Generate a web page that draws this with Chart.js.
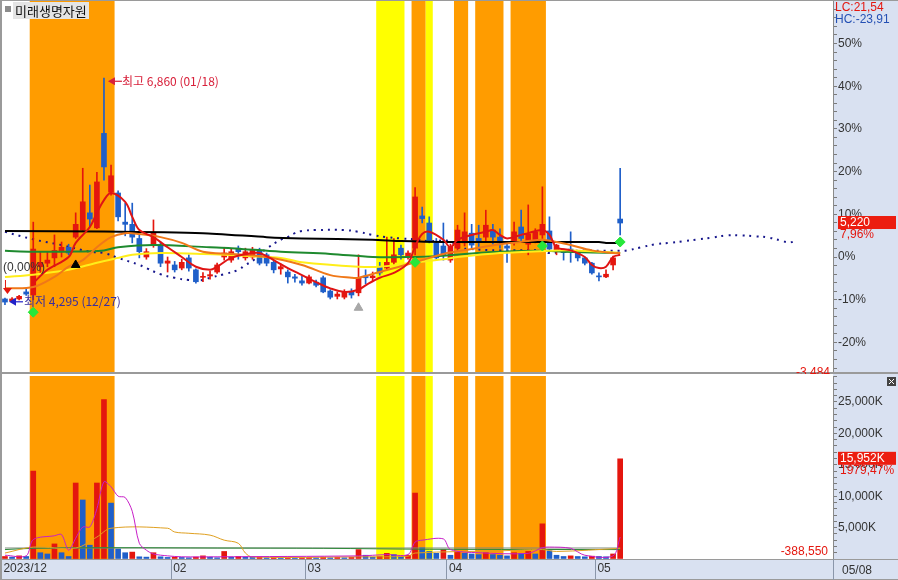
<!DOCTYPE html>
<html>
<head>
<meta charset="utf-8">
<title>미래생명자원</title>
<script src="https://cdn.jsdelivr.net/npm/chart.js@4.4.1/dist/chart.umd.min.js"></script>
<style>
  html, body { margin:0; padding:0; background:#fff; }
  #wrap { position:relative; width:898px; height:580px; overflow:hidden; }
  #priceBox { position:absolute; left:0; top:0; width:898px; height:374px; }
  #volBox { position:absolute; left:0; top:374px; width:898px; height:206px; }
</style>
</head>
<body>
<div id="wrap">
  <div id="priceBox"><canvas id="priceChart"></canvas></div>
  <div id="volBox"><canvas id="volChart"></canvas></div>
</div>
<script>
// 기준가 (0%)
const basePrice = 4835;

// 일봉 (12/27 ~ 05/08)
const openPx  = [4360,4335,4360,4440,4405,4725,4765,4825,4895,4945,5060,5140,5335,5165,6235,5570,5560,5230,5205,5045,
                 4835,4970,4970,4765,4745,4710,4825,4690,4605,4620,4665,4835,4800,4935,4825,4835,4910,4860,4775,4700,
                 4665,4610,4565,4540,4550,4600,4450,4390,4380,4440,4430,4620,4600,4725,4710,4775,4935,4835,4935,5300,
                 5220,4995,4960,4800,4935,4995,5105,5045,5060,5140,5060,4960,5005,5175,4980,5030,5085,5130,4895,4905,
                 4925,4895,4825,4765,4620,4610,4745,5265];
const highPx  = [4370,4375,4400,4475,5230,4895,4895,5085,5005,4980,5335,5840,5650,5795,6860,5875,5585,5445,5445,5105,
                 4930,5255,5005,4835,4785,4810,4860,4700,4660,4675,4765,4945,4925,4960,4935,4945,4935,4880,4800,4755,
                 4690,4640,4615,4630,4575,4620,4465,4440,4465,4475,4860,4690,4665,4775,5060,5045,4970,4905,5620,5400,
                 5290,5045,5220,4980,5195,5335,5205,5195,5365,5205,5155,4980,5230,5365,5425,5155,5630,5290,4980,4925,
                 5120,4910,4835,4775,4655,4690,4845,5840];
const lowPx   = [4295,4325,4350,4400,4350,4655,4725,4725,4835,4860,5045,5125,5175,5155,5705,5535,5245,5075,4995,4825,
                 4810,4945,4725,4665,4665,4690,4675,4540,4555,4585,4650,4800,4775,4810,4800,4810,4745,4735,4655,4640,
                 4540,4550,4515,4530,4495,4430,4360,4360,4360,4370,4395,4530,4565,4630,4690,4755,4810,4810,4860,5220,
                 4995,4800,4800,4775,4910,4960,4935,4925,5015,4980,4935,4775,4970,5015,4860,4995,5045,4895,4860,4800,
                 4775,4790,4745,4640,4565,4600,4690,5085];
const closePx = [4325,4360,4390,4415,4925,4775,4800,4910,4945,4880,5205,5460,5265,5685,5855,5755,5290,5205,5060,4895,
                 4895,5115,4765,4790,4690,4775,4710,4555,4615,4635,4745,4880,4895,4895,4895,4910,4765,4765,4690,4725,
                 4610,4595,4540,4610,4515,4440,4380,4415,4440,4405,4600,4600,4620,4655,4775,4860,4860,4880,5515,5270,
                 5005,4825,4860,4945,5140,5120,4970,5005,5195,5060,4995,4935,5120,5045,5095,5120,5205,4925,4970,4885,
                 4905,4825,4765,4655,4610,4640,4825,5220];

// 거래량 (천주)
const volumeK = [400,300,500,400,14000,1000,800,2400,1000,400,12100,9400,2200,12100,25400,8900,1600,1000,1100,350,
                 300,1000,350,250,300,250,200,300,500,300,200,1200,300,400,300,250,300,200,250,200,
                 300,200,200,250,200,300,200,250,200,250,1500,600,300,400,900,700,400,600,10500,1800,
                 1200,900,1500,600,1200,900,800,700,1000,700,600,500,1000,900,1200,800,5600,1300,600,400,
                 500,400,350,450,400,350,800,15952];

// 이동평균선 [봉 index, 값]
const ma5Line   = [[4,4540],[6,4690],[9,4835],[10,4995],[12,5175],[13,5335],[14,5480],[15,5560],[17,5460],[18,5290],
                   [19,5140],[21,5060],[23,4945],[25,4835],[27,4725],[29,4690],[30,4725],[32,4825],[35,4880],[36,4880],
                   [38,4800],[40,4710],[42,4630],[44,4550],[46,4480],[48,4440],[50,4465],[51,4515],[53,4600],[55,4655],
                   [57,4765],[58,4955],[59,5095],[60,5120],[62,5030],[63,4945],[64,5030],[66,5085],[68,5120],[69,5140],
                   [70,5085],[71,5045],[73,5085],[74,5105],[76,5140],[77,5085],[78,4945],[80,4910],[82,4835],[83,4745],
                   [84,4710],[85,4725],[86,4835],[87,4860]];
const ma10Line  = [[0,4480],[4,4495],[7,4610],[9,4725],[11,4800],[13,4945],[15,5060],[17,5105],[19,5095],[22,5060],
                   [25,4995],[28,4895],[32,4870],[37,4835],[42,4745],[46,4630],[49,4600],[50,4600],[53,4665],[58,4775],
                   [62,4870],[66,4925],[70,4980],[74,5015],[76,5030],[78,5005],[80,4970],[83,4910],[86,4880],[87,4880]];
const ma20Line  = [[0,4610],[4,4635],[9,4690],[13,4770],[16,4825],[18,4860],[22,4880],[28,4870],[35,4845],[39,4825],
                   [42,4775],[50,4725],[53,4725],[58,4775],[62,4810],[64,4835],[70,4880],[77,4905],[80,4910],[84,4895],[87,4880]];
const ma60Line  = [[0,4905],[4,4895],[9,4895],[14,4910],[16,4945],[21,4970],[29,4945],[32,4935],[39,4895],[46,4870],
                   [52,4835],[58,4835],[61,4845],[65,4870],[70,4895],[76,4905],[79,4895],[87,4880]];
const ma120Line = [[0,5130],[14,5125],[28,5105],[37,5060],[42,5045],[52,5030],[56,5015],[62,5005],[84,5005],[85,4995],[87,4995]];
const spanLine  = [[0,5120],[4,5035],[8,4970],[12,4895],[14,4880],[16,4825],[19,4745],[20,4710],[22,4640],[24,4600],
                   [26,4575],[28,4575],[29,4600],[31,4640],[33,4690],[34,4745],[35,4790],[36,4860],[37,4930],[39,5030],
                   [40,5060],[41,5105],[42,5130],[44,5140],[48,5140],[50,5120],[52,5085],[54,5060],[56,5045],[58,5035],
                   [60,5015],[63,5015],[64,4945],[66,4925],[70,4910],[76,4910],[77,4880],[80,4905],[87,4905],[88,4910],
                   [90,4945],[92,4980],[94,4995],[96,5015],[98,5035],[100,5055],[102,5080],[104,5080],[106,5070],[108,5055],
                   [110,5015],[111,5000],[112,5025]];

// 신호
const greenSignal = [[4,4210],[58,4775],[76,4960],[87,5005]];
const blackArrow  = [[10,4745]];
const grayArrow   = [[50,4260]];

// 거래량 이동평균 (천주)
const volMa5Line  = [[0,600],[3,500],[4,3100],[7,3700],[8,3900],[9,1400],[10,3300],[11,5100],[12,5100],[13,8000],
                     [14,12300],[15,11500],[16,10000],[17,9800],[18,7600],[19,2500],[20,1400],[21,800],[23,500],[25,350],
                     [30,350],[50,500],[54,700],[57,700],[58,2700],[59,3000],[62,3200],[63,1500],[67,1000],[74,900],
                     [76,1800],[77,1900],[80,1700],[82,600],[86,500],[87,3500]];
const volMa20Line = [[0,950],[4,1900],[10,1750],[13,3500],[15,4900],[23,4900],[24,4300],[26,4100],[29,3800],[31,3000],
                     [33,2500],[34,950],[35,320],[50,350],[57,450],[58,950],[70,1300],[76,1500],[78,1200],[87,1700]];
const volMa60Line = [[0,1500],[4,1700],[15,1800],[30,1750],[45,1700],[60,1550],[87,1500]];
const volMa120Line = [[0,1750],[87,1750]];

// 강조 구간
const bandFrom = [4, 53, 58, 60, 64, 67, 72];
const bandTo   = [15, 56, 59, 60, 65, 70, 76];
const bandKind = ['o','y','o','y','o','o','o'];

// x축
const monthStart = [0, 24, 43, 63, 84];
const monthLabel = ['2023/12', '02', '03', '04', '05'];
const pctTicks = [];
for (let p = -26; p <= 58; p += 2) pctTicks.push(p);

const RED = '#e4160e', BLUE = '#1f5fc9';
const NUM_FONT = '"Liberation Sans Narrow","Liberation Sans",Arial,sans-serif';
const KR_FONT = '"Noto Sans CJK KR","Noto Sans",sans-serif';
const AXIS_BG = '#d9e1f1';

Chart.defaults.font.family = NUM_FONT;
Chart.defaults.font.size = 12;
Chart.defaults.animation = false;

const pts = arr => arr.map(p => ({x: p[0], y: p[1]}));
const idx = openPx.map((v, i) => i);
const candleColor = idx.map(i => closePx[i] >= openPx[i] ? RED : BLUE);
const volColor = volumeK.map((v, i) => (i === 0 || v >= volumeK[i - 1]) ? RED : BLUE);

const xMin = -0.42, xMax = 117.1;

const bandPlugin = {
  id: 'bands',
  beforeDatasetsDraw(chart) {
    const {ctx, chartArea, scales} = chart;
    ctx.save();
    bandFrom.forEach((f, k) => {
      const x0 = scales.x.getPixelForValue(f - 0.5);
      const x1 = scales.x.getPixelForValue(bandTo[k] + 0.5);
      ctx.fillStyle = bandKind[k] === 'o' ? '#ff9c00' : '#ffff00';
      ctx.fillRect(x0, chartArea.top, x1 - x0, chartArea.bottom - chartArea.top);
    });
    ctx.restore();
  }
};

const framePlugin = {
  id: 'frame',
  beforeDraw(chart) {
    const {ctx, chartArea, width, height} = chart;
    ctx.save();
    ctx.fillStyle = '#fff';
    ctx.fillRect(0, 0, width, height);
    ctx.fillStyle = AXIS_BG;
    ctx.fillRect(chartArea.right, 0, width - chartArea.right, height);
    if (chart.canvas.id === 'volChart') {
      ctx.fillRect(0, chartArea.bottom, width, height - chartArea.bottom);
    }
    ctx.restore();
  },
  afterDraw(chart) {
    const {ctx, chartArea, width, height} = chart;
    ctx.save();
    ctx.fillStyle = '#9a9a9a';
    ctx.fillRect(0, 0, 2, height);
    if (chart.canvas.id === 'priceChart') {
      ctx.fillRect(0, 0, width, 1);
      ctx.fillRect(0, height - 2, width, 2);
    } else {
      ctx.fillRect(0, chartArea.bottom, width, 1);
      ctx.fillRect(0, height - 1, width, 1);
    }
    ctx.restore();
  }
};

function rightTag(ctx, x, y, text, sub) {
  ctx.fillStyle = '#ec1d10';
  ctx.fillRect(x, y - 7, 58, 13);
  ctx.fillStyle = '#fff';
  ctx.font = '12px ' + NUM_FONT;
  ctx.textAlign = 'left';
  ctx.textBaseline = 'middle';
  ctx.fillText(text, x + 2, y);
  ctx.fillStyle = '#e4160e';
  ctx.fillText(sub, x + 2, y + 12);
}

const priceNotes = {
  id: 'priceNotes',
  afterDraw(chart) {
    const {ctx, chartArea, scales: {x, y}} = chart;
    ctx.save();
    // 종목명
    ctx.fillStyle = '#8c8c8c';
    ctx.fillRect(5, 6, 6, 6);
    ctx.fillStyle = '#e4e4e4';
    ctx.fillRect(13, 2, 76, 17);
    ctx.fillStyle = '#111';
    ctx.font = '13px ' + KR_FONT;
    ctx.textBaseline = 'middle';
    ctx.textAlign = 'left';
    ctx.fillText('미래생명자원', 15, 11);

    // 최고
    const hx = x.getPixelForValue(14) + 4, hy = y.getPixelForValue(6860) + 3;
    ctx.fillStyle = '#d8203a';
    ctx.beginPath(); ctx.moveTo(hx, hy); ctx.lineTo(hx + 7, hy - 4); ctx.lineTo(hx + 7, hy + 4); ctx.fill();
    ctx.fillRect(hx + 6, hy - 0.5, 8, 1.2);
    ctx.font = '12px ' + KR_FONT;
    ctx.fillText('최고 6,860 (01/18)', hx + 14, hy);

    // 최저
    const lx = x.getPixelForValue(0) + 4, ly = y.getPixelForValue(4295) - 3;
    ctx.fillStyle = '#2222c8';
    ctx.beginPath(); ctx.moveTo(lx, ly); ctx.lineTo(lx + 7, ly - 4); ctx.lineTo(lx + 7, ly + 4); ctx.fill();
    ctx.fillRect(lx + 6, ly - 0.5, 8, 1.2);
    ctx.fillStyle = '#3a2e9e';
    ctx.fillText('최저 4,295 (12/27)', lx + 15, ly);

    ctx.fillStyle = '#e4160e';
    const rx = x.getPixelForValue(0);
    ctx.fillRect(rx, 280, 1, 8);
    ctx.beginPath(); ctx.moveTo(rx - 2, 288); ctx.lineTo(rx + 7, 288); ctx.lineTo(rx + 2.5, 294); ctx.fill();

    ctx.fillStyle = '#333';
    ctx.font = '12px ' + NUM_FONT;
    ctx.fillText('(0,00%)', chartArea.left + 1, 268);

    // 우측 정보
    ctx.font = '12px ' + NUM_FONT;
    ctx.fillStyle = '#e4160e';
    ctx.fillText('LC:21,54', chartArea.right + 2, 8);
    ctx.fillStyle = '#2450b4';
    ctx.fillText('HC:-23,91', chartArea.right + 2, 20);
    rightTag(ctx, chartArea.right + 5, y.getPixelForValue(closePx[closePx.length - 1]), '5,220', '7,96%');

    ctx.fillStyle = '#e4160e';
    ctx.textAlign = 'right';
    ctx.textBaseline = 'top';
    ctx.fillText('-3,484', chartArea.right - 3, 367);
    ctx.restore();
  }
};

const volNotes = {
  id: 'volNotes',
  afterDraw(chart) {
    const {ctx, chartArea, scales: {y}, height} = chart;
    ctx.save();
    ctx.font = '12px ' + NUM_FONT;
    ctx.fillStyle = '#e4160e';
    ctx.textAlign = 'right';
    ctx.textBaseline = 'middle';
    ctx.fillText('-388,550', chartArea.right - 5, chartArea.bottom - 7);
    rightTag(ctx, chartArea.right + 5, y.getPixelForValue(volumeK[volumeK.length - 1]), '15,952K', '1979,47%');
    // 닫기 버튼
    ctx.fillStyle = '#444';
    ctx.fillRect(887, 3, 9, 9);
    ctx.strokeStyle = '#fff';
    ctx.lineWidth = 1;
    ctx.beginPath(); ctx.moveTo(889, 5); ctx.lineTo(894, 10); ctx.moveTo(894, 5); ctx.lineTo(889, 10); ctx.stroke();
    // 마지막 날짜
    ctx.fillStyle = '#333';
    ctx.textAlign = 'left';
    ctx.textBaseline = 'middle';
    ctx.fillText('05/08', chartArea.right + 9, (chartArea.bottom + height) / 2 + 1);
    ctx.fillStyle = '#8a96aa';
    ctx.fillRect(chartArea.right, chartArea.bottom, 1, height - chartArea.bottom);
    ctx.restore();
  }
};

const lineDs = (label, data, color, width, order, extra) => Object.assign({
  type: 'line', label, data: pts(data), borderColor: color, borderWidth: width,
  pointRadius: 0, tension: 0.35, fill: false, order
}, extra || {});

new Chart(document.getElementById('priceChart'), {
  type: 'bar',
  data: {
    datasets: [
      lineDs('선행', spanLine, '#16168c', 2, 9, {borderDash: [2, 5], tension: 0.4}),
      lineDs('120', ma120Line, '#000000', 2, 5, {tension: 0.2}),
      lineDs('60', ma60Line, '#1e8a2e', 2, 4),
      lineDs('20', ma20Line, '#ffee1a', 2, 3),
      lineDs('10', ma10Line, '#f07818', 2, 2),
      lineDs('5', ma5Line, '#e01414', 2, 1),
      { label: 'wick', data: idx.map(i => ({x: i, y: [lowPx[i], highPx[i]]})), backgroundColor: candleColor,
        barThickness: 1, grouped: false, order: 8 },
      { label: 'body', data: idx.map(i => ({x: i, y: [openPx[i], closePx[i]]})), backgroundColor: candleColor,
        barThickness: 5, minBarLength: 1, grouped: false, order: 7 },
      { type: 'line', label: 'sig', data: pts(greenSignal), showLine: false, pointStyle: 'rectRot', pointRadius: 5,
        backgroundColor: '#27e83a', borderColor: '#27e83a', order: 0 },
      { type: 'line', label: 'up', data: pts(blackArrow), showLine: false, pointStyle: 'triangle', pointRadius: 5,
        backgroundColor: '#000', borderColor: '#000', order: 0 },
      { type: 'line', label: 'up2', data: pts(grayArrow), showLine: false, pointStyle: 'triangle', pointRadius: 5,
        backgroundColor: '#a8a8a8', borderColor: '#a8a8a8', order: 0 }
    ]
  },
  options: {
    responsive: true, maintainAspectRatio: false, events: [],
    layout: { autoPadding: false, padding: { left: 2, top: 0, right: 0, bottom: 2 } },
    plugins: { legend: { display: false }, tooltip: { enabled: false } },
    scales: {
      x: { type: 'linear', display: false, min: xMin, max: xMax, offset: false, bounds: 'data' },
      y: {
        type: 'linear', position: 'right', bounds: 'data',
        min: basePrice * (1 - 26.93 / 100), max: basePrice * (1 + 60.19 / 100),
        afterBuildTicks: s => { s.ticks = pctTicks.map(p => ({value: basePrice * (1 + p / 100)})); },
        afterFit: s => { s.width = 65; s.paddingTop = 0; s.paddingBottom = 0; },
        ticks: {
          autoSkip: false, color: '#333', padding: 1,
          callback: v => { const p = Math.round((v / basePrice - 1) * 100); return p % 10 === 0 ? p + '%' : ''; }
        },
        grid: { drawOnChartArea: false, tickLength: 4, color: '#7a7a7a' },
        border: { display: true, color: '#8a8a8a' }
      }
    }
  },
  plugins: [framePlugin, bandPlugin, priceNotes]
});

new Chart(document.getElementById('volChart'), {
  type: 'bar',
  data: {
    datasets: [
      { label: 'vol', data: idx.map(i => ({x: i, y: volumeK[i]})), backgroundColor: volColor,
        barThickness: 5, grouped: false, order: 5 },
      lineDs('v120', volMa120Line, '#7d8a7d', 1, 4, {tension: 0}),
      lineDs('v60', volMa60Line, '#2e8a3a', 1, 3),
      lineDs('v20', volMa20Line, '#e0a020', 1, 2),
      lineDs('v5', volMa5Line, '#c81ec8', 1, 1, {tension: 0.3})
    ]
  },
  options: {
    responsive: true, maintainAspectRatio: false, events: [],
    layout: { autoPadding: false, padding: { left: 2, top: 2, right: 0, bottom: 0 } },
    plugins: { legend: { display: false }, tooltip: { enabled: false } },
    scales: {
      x: {
        type: 'linear', position: 'bottom', min: xMin, max: xMax, offset: false, bounds: 'data',
        afterBuildTicks: s => { s.ticks = monthStart.map(i => ({value: i - 0.5})); },
        afterFit: s => { s.height = 21; s.paddingLeft = 0; s.paddingRight = 0; },
        ticks: { autoSkip: false, maxRotation: 0, align: 'start', padding: -18, labelOffset: 2, color: '#333',
                 callback: (v, k) => monthLabel[k] },
        grid: { drawOnChartArea: false, offset: false, tickLength: 20, color: '#8a96aa' },
        border: { display: true, color: '#8a8a8a' }
      },
      y: {
        type: 'linear', position: 'right', min: 0, max: 29140, bounds: 'data',
        afterBuildTicks: s => { const t = []; for (let v = 0; v <= 29000; v += 1000) t.push({value: v}); s.ticks = t; },
        afterFit: s => { s.width = 65; s.paddingTop = 0; s.paddingBottom = 0; },
        ticks: { autoSkip: false, color: '#333', padding: 1,
                 callback: v => (v > 0 && v % 5000 === 0) ? v.toLocaleString('en-US') + 'K' : '' },
        grid: { drawOnChartArea: false, tickLength: 4, color: '#7a7a7a' },
        border: { display: true, color: '#8a8a8a' }
      }
    }
  },
  plugins: [framePlugin, bandPlugin, volNotes]
});
</script>
</body>
</html>
